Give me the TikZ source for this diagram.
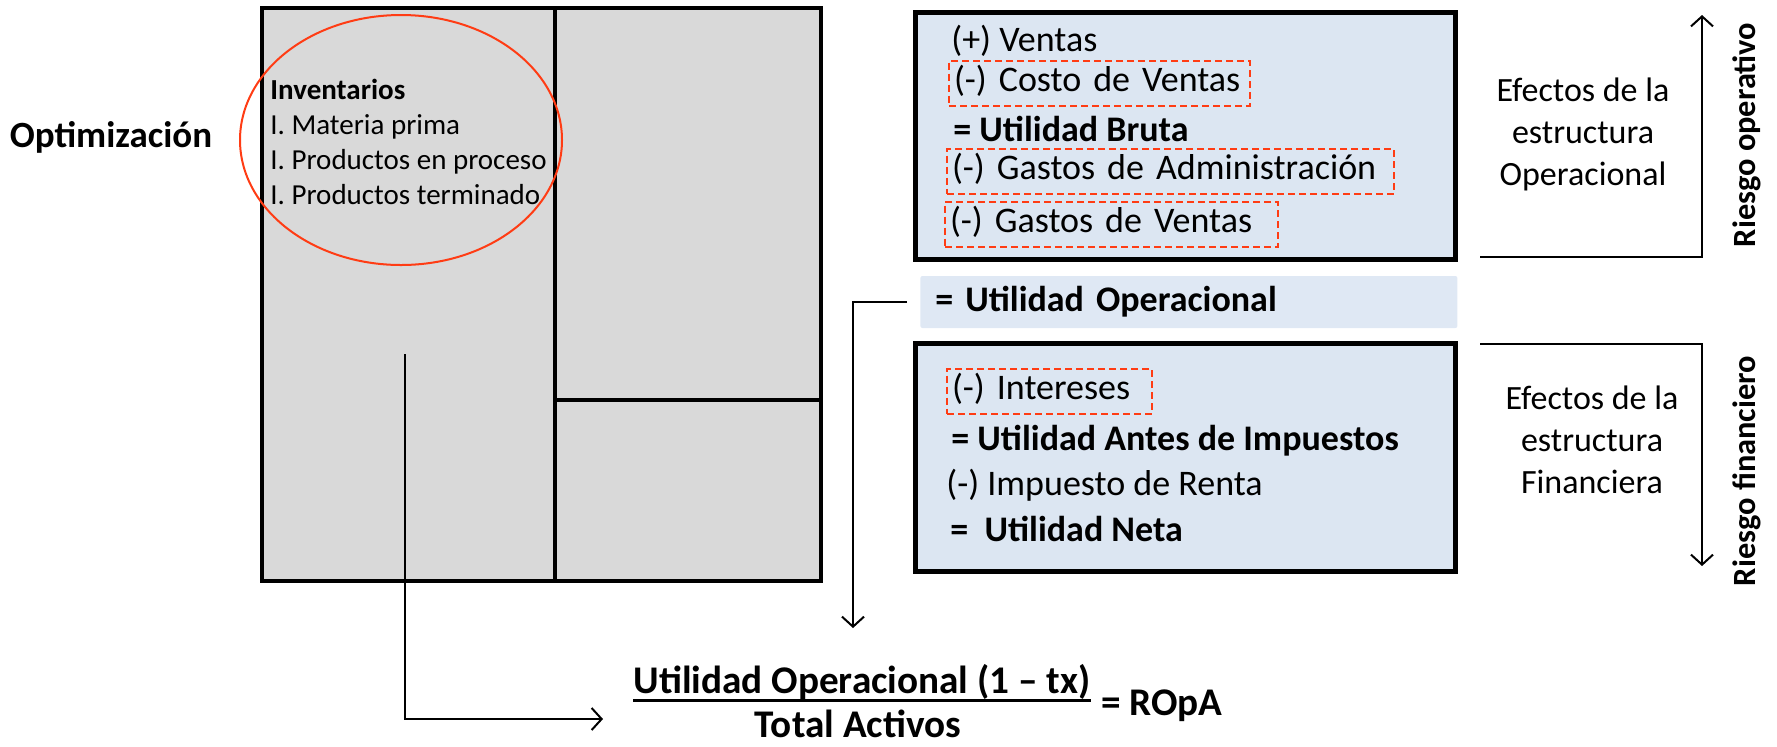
\documentclass[tikz,border=0pt]{standalone}
\usepackage{fontspec}
\setmainfont{Carlito}
\usetikzlibrary{arrows.meta}

\definecolor{boxgrey}{HTML}{D9D9D9}
\definecolor{boxblue}{HTML}{DCE6F2}
\definecolor{bandblue}{HTML}{DFE8F4}
\definecolor{redmark}{HTML}{FF3C14}

\newcommand{\boxfont}{\fontsize{18}{22}\selectfont}
\newcommand{\bigfont}{\fontsize{19.6}{24}\selectfont\bfseries}

\tikzset{
  greybox/.style={draw, line width=2.25pt, fill=boxgrey},
  bluebox/.style={draw, line width=2.5pt, fill=boxblue},
  cut/.style={draw=redmark, line width=1pt, dash pattern=on 3.5pt off 2pt,
    anchor=west, inner ysep=0pt, inner xsep=2.5pt, minimum height=22.5pt,
    text height=0.95em, text depth=0.1em, align=left, font=\boxfont},
  item/.style={anchor=west, inner sep=0pt, font=\boxfont},
  conn/.style={line width=1pt, -{Straight Barb[length=5pt,width=11pt]}},
}

\begin{document}
\begin{tikzpicture}[x=0.5pt,y=-0.5pt]
\useasboundingbox (0,0) rectangle (1777,746);

  % balance
  \draw[greybox] (262,8) rectangle (821,581);
  \draw[line width=2.25pt] (555,8) -- (555,581) (555,400) -- (821,400);
  \draw[redmark, line width=1pt] (401,140) ellipse [x radius=80.5pt, y radius=62.5pt];

  \node[font=\fontsize{18.5}{22}\selectfont\bfseries] (opt) at (111,137) {Optimización};
  \node[anchor=west, align=left, inner sep=0pt, font=\fontsize{14.5}{17.5}\selectfont] (inv) at (270,142)
    {\textbf{Inventarios}\\I. Materia prima\\I. Productos en proceso\\I. Productos terminado};

  % estado de resultados
  \node[bluebox, minimum width=270pt, minimum height=123.5pt] (opbox) at (1185,135.5) {};
  \node[bluebox, minimum width=270pt, minimum height=114pt] (finbox) at (1185,457) {};
  \node[fill=bandblue, rounded corners=1pt, minimum height=26pt, anchor=west,
    inner xsep=7.5pt, text width=253.5pt, font=\boxfont\bfseries] (band) at (920,302) {= Utilidad Operacional};

  \node[item] (ventas) at (951,41) {(+) Ventas};
  \node[cut, text width=145.5pt] (costo) at (948,83) {\mbox{(-) Costo de Ventas}};
  \node[item, font=\boxfont\bfseries] (bruta) at (953,129) {= Utilidad Bruta};
  \node[cut, text width=218.5pt] (admin) at (946,171) {\mbox{(-) Gastos de Administración}};
  \node[cut, text width=161.5pt] (gventas) at (944,224) {\mbox{(-) Gastos de Ventas}};

  \node[cut, text width=97.5pt] (interes) at (946,391) {\mbox{(-) Intereses}};
  \node[item, font=\boxfont\bfseries] (uai) at (951,441) {= Utilidad Antes de Impuestos};
  \node[item] (renta) at (946,485) {(-) Impuesto de Renta};
  \node[item, font=\boxfont\bfseries] (neta) at (950,529) {= \ Utilidad Neta};

  % efectos y riesgos
  \node[align=center, font=\fontsize{17}{21}\selectfont] (efop) at (1583,134) {Efectos de la\\estructura\\Operacional};
  \node[align=center, font=\fontsize{17}{21}\selectfont] (effin) at (1592,440) {Efectos de la\\estructura\\Financiera};
  \node[rotate=90, font=\fontsize{16.2}{19}\selectfont\bfseries] (rop) at (1747,135) {Riesgo operativo};
  \node[rotate=90, font=\fontsize{16.2}{19}\selectfont\bfseries] (rfin) at (1747,471) {Riesgo financiero};

  \coordinate (opbase) at (1480,257);
  \coordinate (optip) at (1702,15);
  \coordinate (finbase) at (1480,344);
  \coordinate (fintip) at (1702,566);
  \draw[conn] (opbase) -| (optip);
  \draw[conn] (finbase) -| (fintip);

  % ROpA
  \node[font=\bigfont, inner xsep=0pt, inner ysep=0pt] (num) at (862,682) {Utilidad Operacional (1 – tx)};
  \node[font=\bigfont, inner ysep=0pt] (den) at (858,724) {Total Activos};
  \node[anchor=west, font=\bigfont] (ropa) at (1094,706) {= ROpA};
  \draw[line width=1.5pt] (num.south west) -- (num.south east);

  \coordinate (invsrc) at (405,354);
  \coordinate (ropain) at (603,719);
  \coordinate (uotip) at (853,628);
  \draw[conn] (invsrc) |- (ropain);
  \draw[conn] ([xshift=-6.5pt]band.west) -| (uotip);

\end{tikzpicture}
\end{document}
